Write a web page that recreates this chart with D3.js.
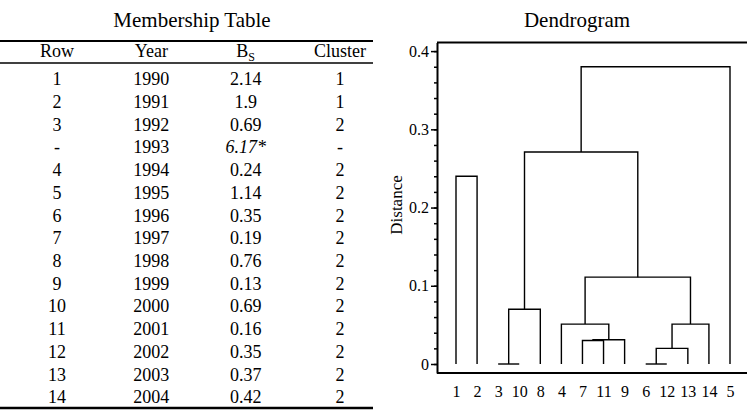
<!DOCTYPE html>
<html>
<head>
<meta charset="utf-8">
<script src="https://cdn.jsdelivr.net/npm/d3@7"></script>
<style>
	body { margin: 0; background: #fff; }
	svg { display: block; font-family: "Liberation Serif", "Times New Roman", serif; }
	svg text { font-family: "Liberation Serif", "Times New Roman", serif; fill: #000; }
</style>
</head>
<body>
<div id="chart"></div>
<script>

// TABLE DATA
const columns = ["Row", "Year", "Bs", "Cluster"];
const rowLabels = ["1", "2", "3", "-", "4", "5", "6", "7", "8", "9", "10", "11", "12", "13", "14"];
const years = [1990, 1991, 1992, 1993, 1994, 1995, 1996, 1997, 1998, 1999, 2000, 2001, 2002, 2003, 2004];
const bsValues = ["2.14", "1.9", "0.69", "6.17*", "0.24", "1.14", "0.35", "0.19", "0.76", "0.13", "0.69", "0.16", "0.35", "0.37", "0.42"];
const clusters = ["1", "1", "2", "-", "2", "2", "2", "2", "2", "2", "2", "2", "2", "2", "2"];

// DENDROGRAM DATA
const leafOrder = ["1", "2", "3", "10", "8", "4", "7", "11", "9", "6", "12", "13", "14", "5"];
// [left child, right child, merge distance]; "mN" refers to merge N
const merges = [
	["1", "2", 0.24],
	["3", "10", 0],
	["m1", "8", 0.07],
	["7", "11", 0.03],
	["m3", "9", 0.031],
	["4", "m4", 0.051],
	["6", "12", 0],
	["m6", "13", 0.02],
	["m7", "14", 0.051],
	["m5", "m8", 0.111],
	["m2", "m9", 0.271],
	["m10", "5", 0.38]
];
const yTicks = [0, 0.1, 0.2, 0.3, 0.4];


// SVG
const w = 747;
const h = 410;
const svg = d3.select("#chart")
	.append("svg")
	.attr("width", w)
	.attr("height", h);


// MEMBERSHIP TABLE
const tableLeft = 0;
const tableRight = 373;

svg.append("text")
	.text("Membership Table")
	.attr("x", 192)
	.attr("y", 27)
	.attr("text-anchor", "middle")
	.style("font-size", "21px");

const xCol = d3.scalePoint()
	.domain(columns)
	.range([57, 340]);
const yRow = d3.scalePoint()
	.domain(d3.range(rowLabels.length))
	.range([79, 397]);

// rules
svg.append("line")
	.attr("x1", tableLeft).attr("x2", tableRight)
	.attr("y1", 41).attr("y2", 41)
	.attr("stroke", "#000").attr("stroke-width", 2);
svg.append("line")
	.attr("x1", tableLeft).attr("x2", tableRight)
	.attr("y1", 63).attr("y2", 63)
	.attr("stroke", "#000").attr("stroke-width", 1.3);
svg.append("line")
	.attr("x1", tableLeft).attr("x2", tableRight)
	.attr("y1", 408).attr("y2", 408)
	.attr("stroke", "#000").attr("stroke-width", 2.5);

// header
const header = svg.append("g").style("font-size", "18px");
columns.forEach(c => {
	const t = header.append("text")
		.attr("x", xCol(c))
		.attr("y", 51)
		.attr("dy", "0.35em")
		.attr("text-anchor", "middle");
	if (c === "Bs") {
		t.append("tspan").text("B");
		t.append("tspan").text("S")
			.attr("dy", "4")
			.style("font-size", "12px");
	} else {
		t.text(c);
	}
});

// body
const body = svg.append("g").style("font-size", "18px");
rowLabels.forEach((r, i) => {
	const cells = [r, years[i], bsValues[i], clusters[i]];
	cells.forEach((v, j) => {
		body.append("text")
			.text(v)
			.attr("x", xCol(columns[j]))
			.attr("y", yRow(i))
			.attr("dy", "0.35em")
			.attr("text-anchor", "middle")
			.style("font-style", String(v).endsWith("*") ? "italic" : "normal");
	});
});


// DENDROGRAM
const plotLeft = 437;
const plotTop = 42.5;
const plotBottom = 373;

svg.append("text")
	.text("Dendrogram")
	.attr("x", 577)
	.attr("y", 27)
	.attr("text-anchor", "middle")
	.style("font-size", "21px");

const xScale = d3.scalePoint()
	.domain(leafOrder)
	.range([456, 730]);
const yScale = d3.scaleLinear()
	.domain([-0.0115, 0.411])
	.range([plotBottom, plotTop]);

// node positions
const pos = {};
leafOrder.forEach(l => pos[l] = { x: xScale(l), y: 0 });

const links = svg.append("g")
	.attr("fill", "none")
	.attr("stroke", "#000")
	.attr("stroke-width", 1.4);
merges.forEach((m, i) => {
	const a = pos[m[0]];
	const b = pos[m[1]];
	const path = d3.path();
	path.moveTo(a.x, yScale(a.y));
	path.lineTo(a.x, yScale(m[2]));
	path.lineTo(b.x, yScale(m[2]));
	path.lineTo(b.x, yScale(b.y));
	links.append("path").attr("d", path.toString());
	pos["m" + i] = { x: (a.x + b.x) / 2, y: m[2] };
});

// y-axis minor ticks
svg.append("g")
	.attr("transform", `translate(${plotLeft}, 0)`)
	.call(d3.axisLeft(yScale)
		.tickValues(d3.range(0, 0.41, 0.02))
		.tickSize(3)
		.tickSizeOuter(0)
		.tickFormat(""))
	.call(g => g.select(".domain").remove())
	.selectAll("line").attr("stroke-width", 1.5);

// y-axis
svg.append("g")
	.attr("transform", `translate(${plotLeft}, 0)`)
	.call(d3.axisLeft(yScale)
		.tickValues(yTicks)
		.tickSize(6)
		.tickSizeOuter(0)
		.tickPadding(2)
		.tickFormat(d => d === 0 ? "0" : d3.format(".1f")(d)))
	.call(g => g.select(".domain").attr("stroke-width", 2))
	.call(g => g.selectAll("line").attr("stroke-width", 1.5))
	.call(g => g.selectAll("text").style("font-size", "16px"));

// frame top and bottom
svg.append("line")
	.attr("x1", plotLeft).attr("x2", w)
	.attr("y1", plotTop).attr("y2", plotTop)
	.attr("stroke", "#000").attr("stroke-width", 2);
svg.append("line")
	.attr("x1", plotLeft).attr("x2", w)
	.attr("y1", plotBottom).attr("y2", plotBottom)
	.attr("stroke", "#000").attr("stroke-width", 2);

// leaf labels
svg.append("g")
	.attr("transform", `translate(0, ${plotBottom})`)
	.call(d3.axisBottom(xScale).tickSize(0).tickPadding(13))
	.call(g => g.select(".domain").remove())
	.call(g => g.selectAll("text").style("font-size", "16px"));

// y label
svg.append("text")
	.text("Distance")
	.attr("x", 0)
	.attr("y", 0)
	.attr("dy", "0.35em")
	.attr("transform", "translate(396, 205) rotate(-90)")
	.attr("text-anchor", "middle")
	.style("font-size", "17px");

</script>
</body>
</html>
